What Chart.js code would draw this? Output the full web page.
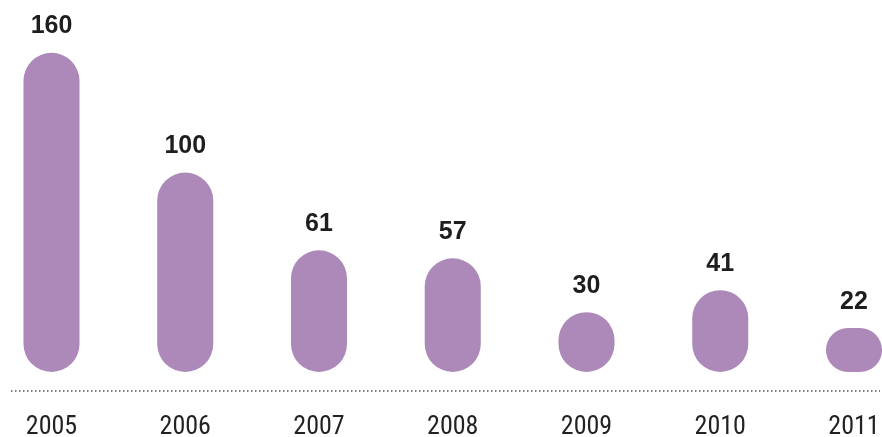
<!DOCTYPE html>
<html>
<head>
<meta charset="utf-8">
<script src="https://cdn.jsdelivr.net/npm/chart.js@4/dist/chart.umd.min.js"></script>
<style>
  html, body { margin: 0; padding: 0; background: #fff; }
  #wrap { width: 882px; height: 437px; }
</style>
</head>
<body>
<div id="wrap"><canvas id="myChart"></canvas></div>
<script>
var years = ['2005', '2006', '2007', '2008', '2009', '2010', '2011'];
var counts = [160, 100, 61, 57, 30, 41, 22];

// etiquetas con el valor encima de cada barra
var valueLabels = {
    id: 'valueLabels',
    afterDatasetsDraw: function (chart) {
        var ctx = chart.ctx;
        var meta = chart.getDatasetMeta(0);
        ctx.save();
        ctx.fillStyle = '#1e1e1e';
        ctx.font = 'bold 25px "Liberation Sans", Arial, sans-serif';
        ctx.textAlign = 'center';
        ctx.textBaseline = 'middle';
        meta.data.forEach(function (bar, i) {
            ctx.fillText(String(counts[i]), bar.x, bar.y - 26.5);
        });
        ctx.restore();
    }
};

// linea punteada debajo de las barras
var dottedBase = {
    id: 'dottedBase',
    beforeDatasetsDraw: function (chart) {
        var ctx = chart.ctx;
        var y = chart.chartArea.bottom + 19;
        ctx.save();
        ctx.strokeStyle = '#555';
        ctx.lineWidth = 1.5;
        ctx.setLineDash([1.5, 2.5]);
        ctx.beginPath();
        ctx.moveTo(11, y);
        ctx.lineTo(chart.width - 2, y);
        ctx.stroke();
        ctx.restore();
    }
};

var ctx = document.getElementById('myChart').getContext('2d');
var myChart = new Chart(ctx, {
    type: 'bar',
    data: {
        labels: years,
        datasets: [{
            data: counts,
            backgroundColor: '#ad89ba',
            borderRadius: 100,
            borderSkipped: false,
            barPercentage: 0.419,
            categoryPercentage: 1,
            clip: false
        }]
    },
    options: {
        responsive: true,
        maintainAspectRatio: false,
        animation: false,
        layout: { padding: { left: 51.5, right: 28, top: 1, bottom: 0 } },
        plugins: {
            legend: { display: false },
            tooltip: { enabled: false }
        },
        scales: {
            x: {
                offset: false,
                grid: { display: false, drawTicks: false },
                border: { display: false },
                ticks: {
                    color: '#222',
                    padding: 42,
                    maxRotation: 0,
                    autoSkip: false,
                    font: { family: '"Liberation Sans Narrow", "Roboto Condensed", Roboto, sans-serif', size: 26, lineHeight: 1 }
                },
                afterFit: function (scale) {
                    scale.height = 65;
                    scale.paddingLeft = 0;
                    scale.paddingRight = 0;
                }
            },
            y: {
                display: false,
                min: 0,
                max: 186
            }
        }
    },
    plugins: [valueLabels, dottedBase]
});
</script>
</body>
</html>
